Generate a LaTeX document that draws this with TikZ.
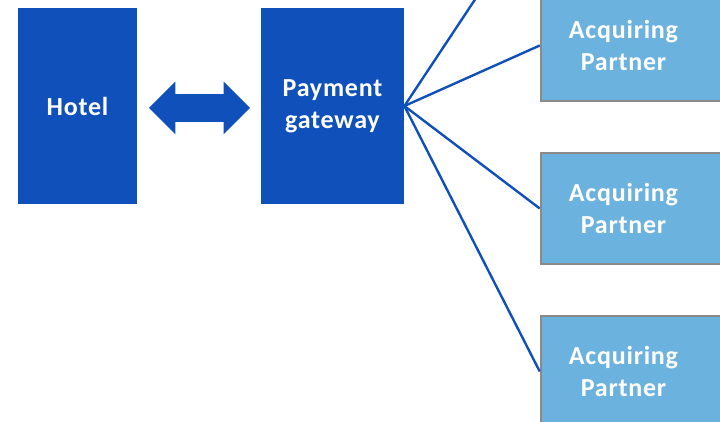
\documentclass[tikz,border=0pt]{standalone}
\usepackage{fontspec}
\setmainfont{Carlito}[LetterSpace=3]
\usetikzlibrary{shapes.arrows}
\definecolor{darkblue}{HTML}{0F50BA}
\definecolor{lightblue}{HTML}{6CB2DE}
\definecolor{bordergray}{HTML}{8A8A8A}
\newcommand{\partnertext}{Acquiring\hspace*{8pt}\\Partner\hspace*{8pt}}
\begin{document}
\begin{tikzpicture}[x=0.5pt, y=-0.5pt, font=\fontsize{13}{16}\selectfont\bfseries,
  main box/.style={rectangle, fill=darkblue, text=white, align=center, minimum height=98pt, inner sep=0pt},
  partner box/.style={rectangle, fill=lightblue, draw=bordergray, line width=1.25pt, text=white, align=center, minimum width=90.5pt, minimum height=55.5pt},
  link/.style={darkblue, line width=1.2pt}]
	\useasboundingbox (0,0) rectangle (720,422);
	\node[main box, minimum width=59.5pt] (H) at (77.5,106) {Hotel};
	\node[main box, minimum width=71.5pt] (P) at (332.5,106) {Payment\\gateway};
	\node[double arrow, fill=darkblue, inner xsep=0pt, inner ysep=6.75pt, minimum height=50.5pt, double arrow head extend=6.25pt] (A) at (199.5,108) {};
	\node[partner box] (AP1) at (631.5,45.5) {\partnertext};
	\node[partner box] (AP2) at (631.5,208.5) {\partnertext};
	\node[partner box] (AP3) at (631.5,371.5) {\partnertext};
	\coordinate (AP0) at (541,-100);
	\draw[link] (P.east) -- (AP0);
	\draw[link] (P.east) -- (AP1.west);
	\draw[link] (P.east) -- (AP2.west);
	\draw[link] (P.east) -- (AP3.west);
\end{tikzpicture}
\end{document}
